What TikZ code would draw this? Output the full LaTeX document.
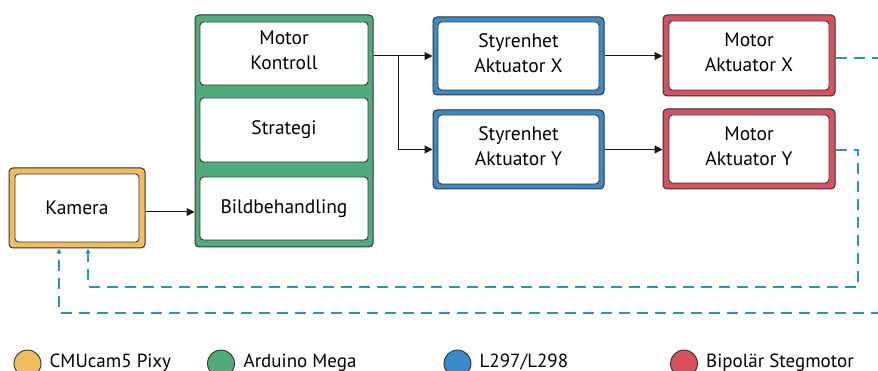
\documentclass[tikz,border=0pt]{standalone}
\usepackage{fontspec}
\setmainfont{PT Sans}
\usetikzlibrary{arrows.meta,calc}

\definecolor{pixyyellow}{HTML}{F0BE60}
\definecolor{megagreen}{HTML}{50AC78}
\definecolor{driverblue}{HTML}{3A89C8}
\definecolor{motorred}{HTML}{D8505E}
\definecolor{feedback}{HTML}{2896B4}
\definecolor{edge}{HTML}{333333}

\begin{document}
\begin{tikzpicture}[x=1pt,y=-1pt,
  outerbox/.style={draw=edge,line width=1pt,rounded corners=4pt,inner sep=0pt},
  innerbox/.style={draw=edge,fill=white,line width=0.9pt,rounded corners=3.5pt,
                   inner sep=0pt,align=center,font=\fontsize{19.5}{25}\selectfont},
  twoline/.style={text depth=6pt},
  signal/.style={draw=black!90,line width=1pt,-{Triangle[length=8pt,width=8pt]}},
  fb/.style={draw=feedback,line width=1.2pt,dash pattern=on 11pt off 7pt,
             -{Triangle[length=5pt,width=5pt]}},
  legdot/.style={circle,draw=edge,line width=0.9pt,minimum size=27pt,inner sep=0pt},
  legtext/.style={anchor=base west,inner sep=0pt,font=\fontsize{19}{22}\selectfont}]

\clip (0,0) rectangle (878,371);

% camera
\node[outerbox,fill=pixyyellow,minimum width=136pt,minimum height=80pt] (kam) at (77,208) {};
\node[innerbox,minimum width=124pt,minimum height=68pt] (kamin) at (77,208) {Kamera};

% Arduino Mega with its three software blocks
\node[outerbox,fill=megagreen,minimum width=178pt,minimum height=232pt] (mega) at (284,131) {};
\node[innerbox,twoline,minimum width=168pt,minimum height=63pt] (mk) at (284,53.5) {Motor\\Kontroll};
\node[innerbox,minimum width=168pt,minimum height=64pt] (strat) at (284,130) {Strategi};
\node[innerbox,minimum width=168pt,minimum height=63pt] (bild) at (284,208.5) {Bildbehandling};

% motor drivers
\node[outerbox,fill=driverblue,minimum width=171pt,minimum height=78pt] (bx) at (518.5,56) {};
\node[innerbox,twoline,minimum width=161pt,minimum height=68pt] (bxin) at (518.5,56) {Styrenhet\\Aktuator X};
\node[outerbox,fill=driverblue,minimum width=171pt,minimum height=79pt] (by) at (518.5,149.5) {};
\node[innerbox,twoline,minimum width=161pt,minimum height=69pt] (byin) at (518.5,149.5) {Styrenhet\\Aktuator Y};

% stepper motors
\node[outerbox,fill=motorred,minimum width=172pt,minimum height=81pt] (rx) at (749,55.5) {};
\node[innerbox,twoline,minimum width=160pt,minimum height=69pt] (rxin) at (749,55.5) {Motor\\Aktuator X};
\node[outerbox,fill=motorred,minimum width=172pt,minimum height=80pt] (ry) at (749,149) {};
\node[innerbox,twoline,minimum width=160pt,minimum height=68pt] (ryin) at (749,149) {Motor\\Aktuator Y};

% signal flow
\draw[signal] ([yshift=-4pt]kam.east) -- ([yshift=-4pt]kam.east -| mega.west);
\coordinate (split) at ($(mega.east |- bx.west)+(25,0)$);
\draw[signal] (mega.east |- bx.west) -- (bx.west);
\draw[signal] (split) |- (by.west);
\draw[signal] (bx.east) -- (bx.east -| rx.west);
\draw[signal] (by.east) -- (by.east -| ry.west);

% feedback loops back to the camera
\coordinate (loopx) at (884,313);
\coordinate (loopy) at (858,287);
\draw[fb] ([yshift=-2.5pt]rx.east) -| (loopx) -| ([xshift=-18pt]kam.south);
\draw[fb] ([yshift=-1pt]ry.east) -| (loopy) -| ([xshift=11pt]kam.south);

% legend
\node[legdot,fill=pixyyellow] (l1) at (27.5,363.5) {};
\node[legtext] (t1) at ($(l1.east)+(8,3.5)$) {CMUcam5 Pixy};
\node[legdot,fill=megagreen] (l2) at (221,363.5) {};
\node[legtext] (t2) at ($(l2.east)+(8.5,3.5)$) {Arduino Mega};
\node[legdot,fill=driverblue] (l3) at (457.5,363.5) {};
\node[legtext] (t3) at ($(l3.east)+(8,3.5)$) {L297/L298};
\node[legdot,fill=motorred] (l4) at (684,363.5) {};
\node[legtext] (t4) at ($(l4.east)+(8,3.5)$) {Bipolär Stegmotor};
\end{tikzpicture}
\end{document}
